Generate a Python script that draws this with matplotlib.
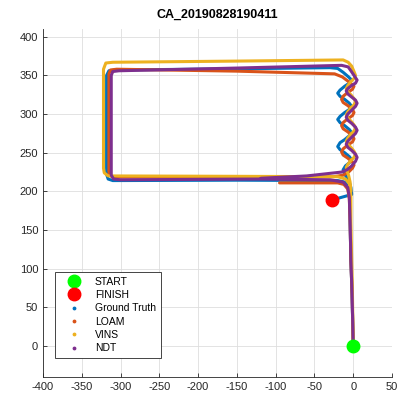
import numpy as np
import matplotlib
matplotlib.use("Agg")
import matplotlib.pyplot as plt
from matplotlib.lines import Line2D

plt.rcParams['font.family'] = ['Liberation Sans', 'DejaVu Sans']
plt.rcParams['axes.unicode_minus'] = False

title = "CA_20190828190411"
labels = ["START", "FINISH", "Ground Truth", "LOAM", "VINS", "NDT"]
colors = ["#0072BD", "#D95319", "#EDB120", "#7E2F8E"]

start_pt = (0, 0)
finish_pt = (-27, 189)

# ground truth
gt_x = [0, -1.5, -3, -4, -4, -6, -11, -20, -150, -310, -316, -318, -318, -315, -306, -150, -30, -20, -13, -6, -2,
        -5, -11, -17, -20, -17, -11, -5, -2, -5, -11, -17, -20, -17, -11, -5, -2,
        -5, -11, -17, -20, -17, -11, -5, -2, -5, -10, -13, -11, -6, -3, -2, -27]
gt_y = [0, 68, 111, 160, 195, 206, 212, 214, 214.5, 214, 216, 222, 350, 356, 357, 358.5, 360, 359, 354, 348, 344,
        340, 336, 331, 327, 323, 319, 314, 310, 306, 302, 297, 293, 289, 285, 280, 276,
        272, 267, 263, 258, 254, 250, 245, 241, 237, 233, 228, 222, 215, 205, 196, 189]

# LOAM (breaks where the estimate jumps)
loam_x = [0, -1.5, -3, -4, -5, -7, -12, -20, -95, np.nan, -100, -310, -314, -315, -315, -313, -305, -150, -24, -14, -6,
          1, -1, -7, -13, -15, -13, -7, -1, 1, -1, -7, -13, -15, -13, -7, -1,
          1, -1, -7, -13, -15, -13, -7, -1, 1, -1, -6, -13, -25, -100]
loam_y = [0, 68, 111, 160, 190, 203, 209, 211, 211, np.nan, 218.5, 218.5, 221, 226, 352, 357, 358, 355.5, 352, 348, 342,
          336, 332, 328, 323, 319, 315, 311, 306, 302, 298, 294, 289, 285, 281, 277, 272,
          268, 264, 260, 255, 251, 247, 243, 238, 234, 230, 225, 221, 219, 218.5]

# VINS
vins_x = [0, -1, -2, -3, -3, -5, -10, -20, -150, -316, -321, -322, -322, -319, -310, -150, -13, -6.5, -2, 1, 3,
          1, -3, -7, -9, -7, -3, 1, 3, 1, -3, -7, -9, -7, -3, 1, 3,
          1, -3, -7, -9, -7, -3, 1, 3, 1, -3, -7, -9, -8, -6, -4, -3]
vins_y = [0, 68, 111, 160, 195, 210, 216, 219, 219.5, 220, 224, 230, 358, 366, 367, 368.5, 370, 367, 362, 355, 350,
          346, 342, 337, 333, 329, 325, 320, 316, 312, 308, 303, 299, 295, 291, 286, 282,
          278, 274, 269, 265, 261, 257, 252, 248, 244, 240, 235, 231, 226, 221, 212, 200]

# NDT
ndt_x = [0, -1.5, -3, -4, -5, -7, -13, -30, -119, -300, -309, -312, -312, -310, -302, -150, -15, -6.5, -3, 1, 5,
         3, -2, -7, -9, -7, -2, 3, 5, 3, -2, -7, -9, -7, -2, 3, 5,
         3, -2, -7, -9, -7, -2, 3, 5, 3, -2, -8, -15, -60, -119]
ndt_y = [0, 68, 111, 160, 192, 205, 212, 215, 216, 215, 216, 221, 350, 355, 356, 359.5, 363, 361, 356, 350, 344,
         340, 337, 333, 330, 326, 322, 318, 314, 310, 305, 300, 296, 292, 288, 283, 279,
         275, 270, 265, 261, 257, 253, 248, 244, 239, 233, 228, 225, 220, 217]

fig = plt.figure(figsize=(3.97, 4.01), dpi=100)
ax = fig.add_axes([43 / 397, 1 - 377 / 401, 349 / 397, 348 / 401])

series = [(gt_x, gt_y), (loam_x, loam_y), (vins_x, vins_y), (ndt_x, ndt_y)]
for (xs, ys), c in zip(series, colors):
    ax.plot(xs, ys, color=c, lw=2.2, solid_joinstyle='round', solid_capstyle='round')

ax.plot(*start_pt, 'o', color='#00FF00', ms=9, zorder=5)
ax.plot(*finish_pt, 'o', color='#FF0000', ms=9, zorder=5)

ax.set_xlim(-400, 50)
ax.set_ylim(-40, 410)
ax.set_xticks(np.arange(-400, 51, 50))
ax.set_yticks(np.arange(0, 401, 50))
ax.grid(True, color='#dedede', lw=0.6)
ax.set_axisbelow(True)
for s in ['top', 'right']:
    ax.spines[s].set_visible(False)
for s in ['left', 'bottom']:
    ax.spines[s].set_color('#262626')
    ax.spines[s].set_linewidth(0.6)
ax.tick_params(direction='in', length=3, width=0.6, labelsize=8, colors='#262626')
ax.set_title(title, fontsize=9, fontweight='bold', pad=8)

handles = [Line2D([], [], ls='none', marker='o', color='#00FF00', ms=9),
           Line2D([], [], ls='none', marker='o', color='#FF0000', ms=9)]
handles += [Line2D([], [], ls='none', marker='.', color=c, ms=3.5) for c in colors]
leg = ax.legend(handles, labels, loc='lower left', bbox_to_anchor=(0.034, 0.055), borderaxespad=0,
                fontsize=7.5, fancybox=False, framealpha=1, edgecolor='#262626',
                handlelength=2.8, handletextpad=0.6, labelspacing=0.32, borderpad=0.45)
leg.get_frame().set_linewidth(0.6)

fig.savefig("out.png", dpi=100)
